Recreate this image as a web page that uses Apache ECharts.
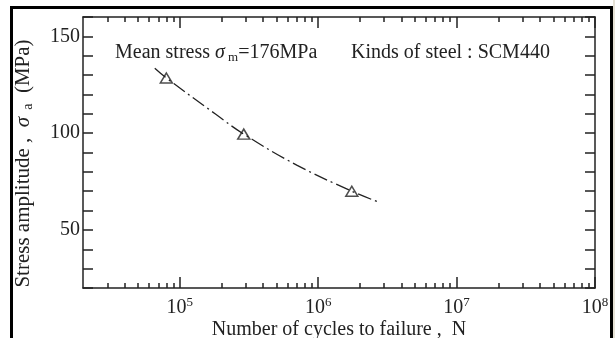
<!DOCTYPE html>
<html>
<head>
<meta charset="utf-8">
<script src="https://cdn.jsdelivr.net/npm/echarts@6/dist/echarts.min.js"></script>
<style>
  html, body { margin: 0; padding: 0; background: #fff; }
  #wrap { position: relative; width: 615px; height: 338px; overflow: hidden; background: #fff; }
  #frame { position: absolute; left: 10px; top: 6px; width: 597px; height: 400px; border: 3px solid #000; border-bottom: none; }
  #side { position: absolute; left: 613px; top: 0; width: 2px; height: 338px; background: #e6e2d6; }
  #chart { position: absolute; left: 0; top: 0; width: 615px; height: 338px; }
</style>
</head>
<body>
<div id="wrap">
  <div id="frame"></div>
  <div id="side"></div>
  <div id="chart"></div>
</div>
<script>
// measured points (triangles)
const cycles = [8.0e4, 2.9e5, 1.75e6]
const stress = [128.5, 99.5, 70]
// fitted curve as drawn in the figure (dash-dot)
const curveCycles = [6.6e4, 8.0e4, 1.8e5, 2.9e5, 7.0e5, 1.75e6, 2.7e6]
const curveStress = [133.5, 128.5, 110, 99.5, 83.5, 70, 64.5]
// axis settings
const xMin = 2e4
const xMax = 1e8
const xExponents = [5, 6, 7, 8]
const yLabels = [50, 100, 150]

const logMin = Math.log10(xMin)
const logMax = Math.log10(xMax)
const majorTicks = xExponents.slice()
const minorTicks = []
for (let k = 4; k < 8; k++) {
  for (let m = 2; m <= 9; m++) {
    const v = Math.log10(m * Math.pow(10, k))
    if (v > logMin + 1e-6 && v < logMax) minorTicks.push(v)
  }
}

const ink = '#222'
const serif = '"Liberation Serif", "Times New Roman", serif'
const fs = 20

const myChart = echarts.init(document.getElementById('chart'))

const baseX = {
  type: 'value',
  min: logMin,
  max: logMax,
  splitLine: { show: false },
  axisLine: { show: false },
  axisLabel: { show: false },
  axisTick: { show: false }
}

const options = {
  animation: false,
  grid: { left: 83, right: 20, top: 17, bottom: 50, outerBoundsMode: 'none', containLabel: false },
  graphic: [
    {
      type: 'text',
      left: 115,
      top: 43,
      style: {
        text: '{n|Mean stress }{g|σ}{s| m}{n|=176MPa}',
        rich: {
          n: { fontFamily: serif, fontSize: fs, fill: ink },
          g: { fontFamily: serif, fontSize: fs, fontStyle: 'italic', fill: ink },
          s: { fontFamily: serif, fontSize: 13, fill: ink, padding: [10, 0, 0, 0] }
        }
      }
    },
    {
      type: 'text',
      left: 351,
      top: 43,
      style: {
        text: 'Kinds of steel : SCM440',
        fontFamily: serif,
        fontSize: fs,
        fill: ink
      }
    }
  ],
  xAxis: [
    {
      ...baseX,
      position: 'bottom',
      name: 'Number of cycles to failure ,  N',
      nameLocation: 'middle',
      nameGap: 32,
      nameMoveOverlap: false,
      nameTextStyle: { fontFamily: serif, fontSize: fs, color: ink },
      axisLine: { show: true, lineStyle: { color: ink, width: 1.5 } },
      axisTick: { show: true, inside: true, length: 11, customValues: majorTicks, lineStyle: { color: ink, width: 1.5 } },
      axisLabel: {
        show: true,
        customValues: majorTicks,
        margin: 8,
        formatter: v => '{b|10}{e|' + Math.round(v) + '}',
        rich: {
          b: { fontFamily: serif, fontSize: fs, color: ink },
          e: { fontFamily: serif, fontSize: 13, color: ink, padding: [0, 0, 10, 0] }
        }
      }
    },
    {
      ...baseX,
      position: 'bottom',
      axisTick: { show: true, inside: true, length: 5, customValues: minorTicks, lineStyle: { color: ink, width: 1.5 } }
    },
    {
      ...baseX,
      position: 'top',
      axisLine: { show: true, lineStyle: { color: ink, width: 1.5 } },
      axisTick: { show: true, inside: true, length: 11, customValues: majorTicks, lineStyle: { color: ink, width: 1.5 } }
    },
    {
      ...baseX,
      position: 'top',
      axisTick: { show: true, inside: true, length: 5, customValues: minorTicks, lineStyle: { color: ink, width: 1.5 } }
    }
  ],
  yAxis: [
    {
      type: 'value',
      position: 'left',
      min: 20,
      max: 160,
      interval: 10,
      splitLine: { show: false },
      name: '{n|Stress amplitude ,  }{g|σ}{s|  a}{n|  (MPa)}',
      nameLocation: 'middle',
      nameGap: 48,
      nameRotate: 90,
      nameTextStyle: {
        padding: [0, 22, 0, 0],
        rich: {
          n: { fontFamily: serif, fontSize: 21, color: ink },
          g: { fontFamily: serif, fontSize: 21, fontStyle: 'italic', color: ink },
          s: { fontFamily: serif, fontSize: 14, color: ink, padding: [10, 0, 0, 0] }
        }
      },
      axisLine: { show: true, lineStyle: { color: ink, width: 1.5 } },
      axisTick: { show: true, inside: true, length: 10, lineStyle: { color: ink, width: 1.5 } },
      axisLabel: {
        customValues: yLabels,
        margin: 3,
        fontFamily: serif,
        fontSize: fs,
        color: ink
      }
    },
    {
      type: 'value',
      position: 'right',
      min: 20,
      max: 160,
      interval: 10,
      splitLine: { show: false },
      axisLine: { show: true, lineStyle: { color: ink, width: 1.5 } },
      axisTick: { show: true, inside: true, length: 10, lineStyle: { color: ink, width: 1.5 } },
      axisLabel: { show: false }
    }
  ],
  series: [
    {
      name: 'curve',
      type: 'line',
      xAxisIndex: 0,
      yAxisIndex: 0,
      smooth: 0.4,
      showSymbol: false,
      lineStyle: { color: ink, width: 1.3, type: [14, 4, 2, 4] },
      data: curveCycles.map((c, i) => [Math.log10(c), curveStress[i]])
    },
    {
      name: 'SCM440',
      type: 'scatter',
      xAxisIndex: 0,
      yAxisIndex: 0,
      symbol: 'triangle',
      symbolSize: [12, 10],
      itemStyle: { color: '#fff', borderColor: ink, borderWidth: 1.5 },
      data: cycles.map((c, i) => [Math.log10(c), stress[i]])
    }
  ]
}

myChart.setOption(options)

window.addEventListener('resize', () => {
  myChart.resize()
})
</script>
</body>
</html>
